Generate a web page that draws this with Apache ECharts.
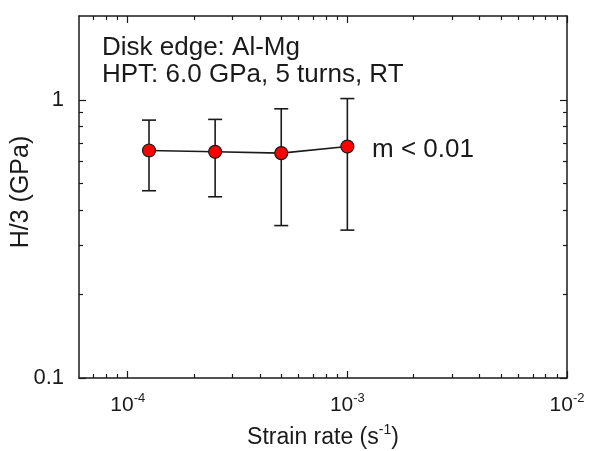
<!DOCTYPE html>
<html>
<head>
<meta charset="utf-8">
<script src="https://cdn.jsdelivr.net/npm/echarts@6/dist/echarts.min.js"></script>
<style>
  html, body { margin: 0; padding: 0; background: #fff; }
  #chart { width: 589px; height: 451px; }
</style>
</head>
<body>
<div id="chart"></div>
<script>
// strain rate (1/s) and H/3 (GPa) with error bar limits
const strainRate = [1.25e-4, 2.5e-4, 5e-4, 1e-3];
const hardness = [0.657, 0.65, 0.643, 0.679];
const errLow = [0.471, 0.448, 0.353, 0.340];
const errHigh = [0.845, 0.85, 0.928, 1.01];

const xMajor = [1e-4, 1e-3, 1e-2];
const xMinor = [7e-5, 8e-5, 9e-5,
  2e-4, 3e-4, 4e-4, 5e-4, 6e-4, 7e-4, 8e-4, 9e-4,
  2e-3, 3e-3, 4e-3, 5e-3, 6e-3, 7e-3, 8e-3, 9e-3];
const yMajor = [0.1, 1];
const yMinor = [0.2, 0.3, 0.4, 0.5, 0.6, 0.7, 0.8, 0.9];
const yLabels = { 0.1: '0.1', 1: '1' };

const FONT = '"Liberation Sans", Arial, sans-serif';
const INK = '#1a1a1a';

const chart = echarts.init(document.getElementById('chart'));

function expLabel(v) {
  const e = Math.round(Math.log10(v));
  return '{b|10}{s|' + e + '}';
}

const supRich = {
  b: { fontSize: 21, fontFamily: FONT, color: INK, verticalAlign: 'bottom', lineHeight: 24 },
  s: { fontSize: 13, fontFamily: FONT, color: INK, verticalAlign: 'top', lineHeight: 24, padding: [0, 0, 10, 0] }
};

function xAxisDef(pos, ticks, len, showLine, showLabel) {
  return {
    type: 'log', logBase: 10, min: 6e-5, max: 1e-2, position: pos,
    axisLine: { show: showLine, lineStyle: { color: INK, width: 1.5 } },
    axisTick: { show: true, inside: true, length: len, customValues: ticks, lineStyle: { color: INK, width: 1.2 } },
    axisLabel: showLabel ? {
      customValues: xMajor, margin: 14, formatter: expLabel, rich: supRich
    } : { show: false },
    splitLine: { show: false },
    minorTick: { show: false }
  };
}

function yAxisDef(pos, ticks, len, showLine, showLabel) {
  return {
    type: 'log', logBase: 10, min: 0.1, max: 2, position: pos,
    axisLine: { show: showLine, lineStyle: { color: INK, width: 1.5 } },
    axisTick: { show: true, inside: true, length: len, customValues: ticks, lineStyle: { color: INK, width: 1.2 } },
    axisLabel: showLabel ? {
      customValues: yMajor, margin: 15, fontSize: 22, fontFamily: FONT, color: INK,
      formatter: v => yLabels[v] || String(v)
    } : { show: false },
    splitLine: { show: false },
    minorTick: { show: false }
  };
}

const xAxes = [
  xAxisDef('bottom', xMajor, 7, true, true),
  xAxisDef('bottom', xMinor, 4, false, false),
  xAxisDef('top', xMajor, 7, true, false),
  xAxisDef('top', xMinor, 4, false, false)
];
Object.assign(xAxes[0], {
  name: '{n|Strain rate (s}{s|-1}{n|)}',
  nameLocation: 'middle', nameGap: 45,
  nameTextStyle: {
    rich: {
      n: { fontSize: 23, fontFamily: FONT, color: INK, verticalAlign: 'bottom', lineHeight: 26 },
      s: { fontSize: 14, fontFamily: FONT, color: INK, verticalAlign: 'top', lineHeight: 26, padding: [0, 0, 10, 0] }
    }
  }
});

const yAxes = [
  yAxisDef('left', yMajor, 7, true, true),
  yAxisDef('left', yMinor, 4, false, false),
  yAxisDef('right', yMajor, 7, true, false),
  yAxisDef('right', yMinor, 4, false, false)
];
Object.assign(yAxes[0], {
  name: 'H/3 (GPa)', nameLocation: 'middle', nameGap: 45, nameMoveOverlap: false,
  nameTextStyle: { fontSize: 25, fontFamily: FONT, color: INK, padding: [0, 0, 0, 10] }
});

const errData = strainRate.map((x, i) => [x, errLow[i], errHigh[i]]);
const pointData = strainRate.map((x, i) => [x, hardness[i]]);

const option = {
  animation: false,
  backgroundColor: '#fff',
  grid: { left: 79, right: 22, top: 16, bottom: 73, outerBoundsMode: 'none', containLabel: false },
  xAxis: xAxes,
  yAxis: yAxes,
  graphic: [
    { type: 'text', left: 102, top: 35, style: { text: 'Disk edge: Al-Mg', font: '26px ' + FONT, fill: INK } },
    { type: 'text', left: 102, top: 62, style: { text: 'HPT: 6.0 GPa, 5 turns, RT', font: '26px ' + FONT, fill: INK } },
    { type: 'text', left: 372, top: 137, style: { text: 'm < 0.01', font: '26px ' + FONT, fill: INK } }
  ],
  series: [
    {
      type: 'custom',
      xAxisIndex: 0, yAxisIndex: 0,
      z: 1,
      encode: { x: 0, y: [1, 2] },
      data: errData,
      renderItem: function (params, api) {
        const x = api.value(0);
        const lo = api.coord([x, api.value(1)]);
        const hi = api.coord([x, api.value(2)]);
        const w = 7;
        const st = { stroke: INK, lineWidth: 1.6 };
        return {
          type: 'group',
          children: [
            { type: 'line', shape: { x1: lo[0], y1: lo[1], x2: hi[0], y2: hi[1] }, style: st },
            { type: 'line', shape: { x1: hi[0] - w, y1: hi[1], x2: hi[0] + w, y2: hi[1] }, style: st },
            { type: 'line', shape: { x1: lo[0] - w, y1: lo[1], x2: lo[0] + w, y2: lo[1] }, style: st }
          ]
        };
      }
    },
    {
      type: 'line',
      xAxisIndex: 0, yAxisIndex: 0,
      z: 3,
      data: pointData,
      symbol: 'circle',
      symbolSize: 13,
      lineStyle: { color: INK, width: 1.6 },
      itemStyle: { color: '#ff0000', borderColor: INK, borderWidth: 1.2 }
    }
  ]
};

chart.setOption(option);
</script>
</body>
</html>
